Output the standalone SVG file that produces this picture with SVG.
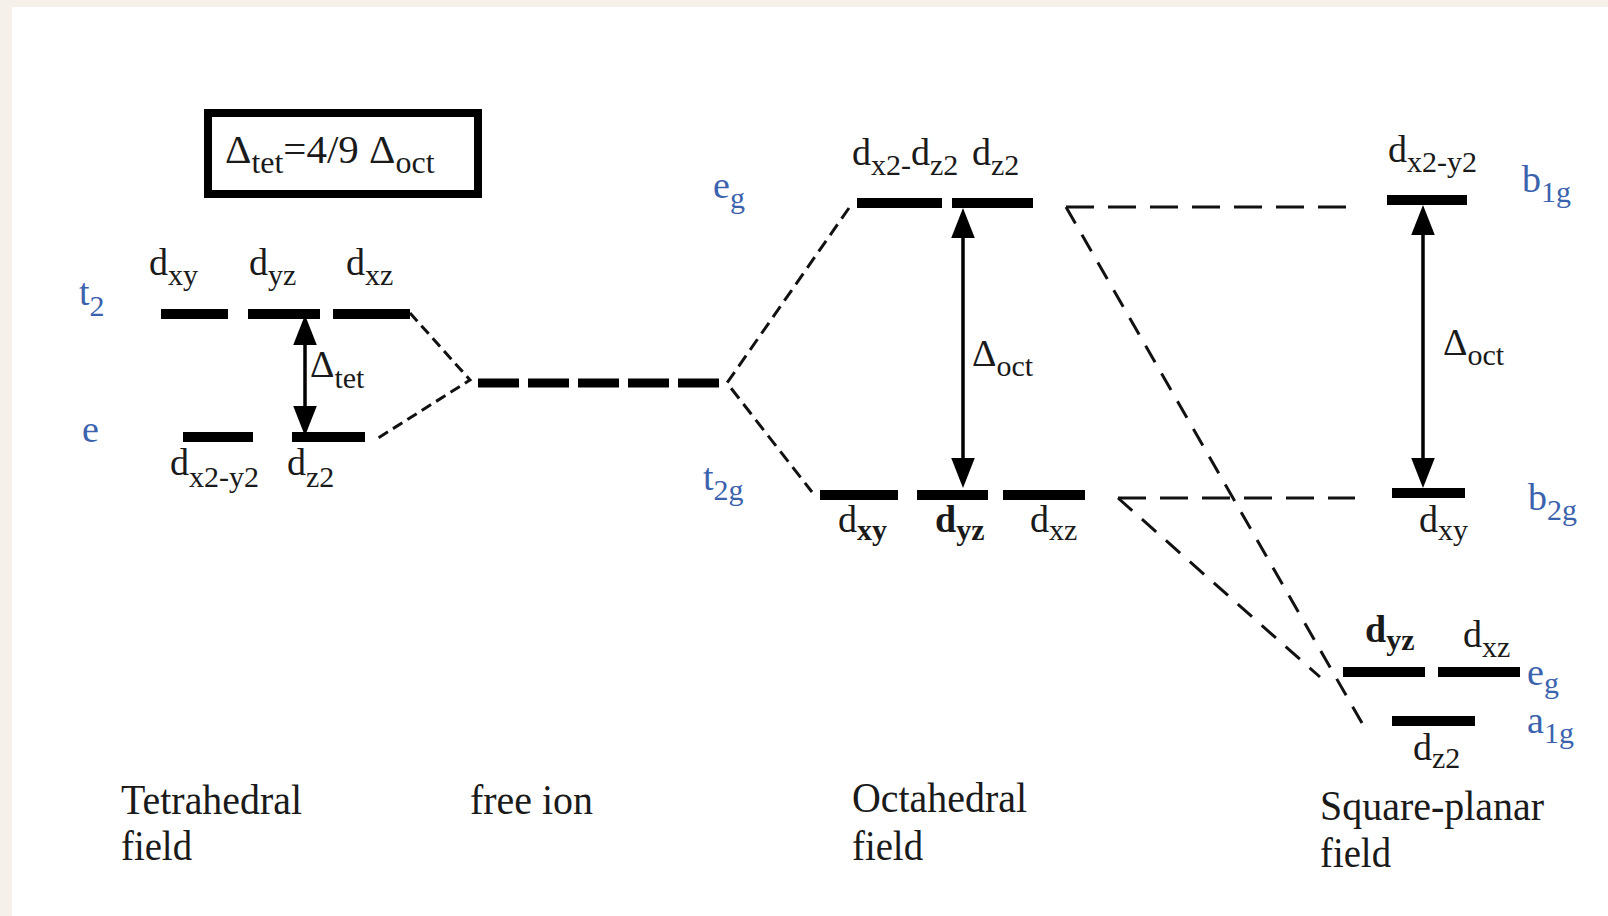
<svg xmlns="http://www.w3.org/2000/svg" width="1608" height="916" viewBox="0 0 1608 916">
<style>
.t{font-family:"Liberation Serif","Times New Roman",serif;font-size:38px;fill:#1a1a1a}
.s{font-size:30px}
.b{font-weight:bold}
.blue{fill:#3b63ad}
.big{font-family:"Liberation Serif","Times New Roman",serif;font-size:42px;fill:#1a1a1a}
.lvl{stroke:#000;stroke-width:10;fill:none}
.dash{stroke:#111;stroke-width:3;stroke-dasharray:11 6;fill:none}
.dasho{stroke:#111;stroke-width:3;stroke-dasharray:13 7;fill:none}
.dashl{stroke:#111;stroke-width:3;stroke-dasharray:28 14;fill:none}
.dashm{stroke:#111;stroke-width:3;stroke-dasharray:19 13;fill:none}
.arr{stroke:#000;stroke-width:3.5;fill:none;marker-start:url(#ah);marker-end:url(#ah)}
</style>
<defs>
<marker id="ah" markerUnits="userSpaceOnUse" markerWidth="30" markerHeight="24" refX="0" refY="11" orient="auto-start-reverse" viewBox="0 0 28 22">
<path d="M0,0 L28,11 L0,22 z" fill="#000"/>
</marker>
</defs>
<rect x="0" y="0" width="1608" height="916" fill="#f5f1ea"/>
<rect x="12" y="7" width="1596" height="909" fill="#ffffff"/>

<g id="formula-box">
<rect x="208" y="113" width="270" height="81" fill="none" stroke="#000" stroke-width="8"/>
<text class="t" x="225" y="163" style="font-size:41px">Δ<tspan y="173" style="font-size:32px">tet</tspan><tspan y="163">=4/9 Δ</tspan><tspan y="173" style="font-size:32px">oct</tspan></text>
</g>

<g id="tetrahedral">
<g id="tet-t2">
<line class="lvl" x1="161" y1="314" x2="228" y2="314"/>
<line class="lvl" x1="248" y1="314" x2="320" y2="314"/>
<line class="lvl" x1="333" y1="314" x2="410" y2="314"/>
<text class="t" x="149" y="275">d<tspan class="s" y="285">xy</tspan></text>
<text class="t" x="249" y="275">d<tspan class="s" y="285">yz</tspan></text>
<text class="t" x="346" y="275">d<tspan class="s" y="285">xz</tspan></text>
<text class="t blue" x="79" y="305">t<tspan class="s" y="316">2</tspan></text>
</g>
<g id="tet-e">
<line class="lvl" x1="183" y1="437" x2="253" y2="437"/>
<line class="lvl" x1="292" y1="437" x2="365" y2="437"/>
<text class="t" x="170" y="475">d<tspan class="s" y="487">x2-y2</tspan></text>
<text class="t" x="287" y="475">d<tspan class="s" y="487">z2</tspan></text>
<text class="t blue" x="82" y="442">e</text>
</g>
<g id="tet-delta">
<line class="arr" x1="305" y1="345" x2="305" y2="406"/>
<text class="t" x="310" y="377">Δ<tspan class="s" y="388">tet</tspan></text>
</g>
<text class="big" x="121" y="814" textLength="181" lengthAdjust="spacingAndGlyphs">Tetrahedral</text>
<text class="big" x="121" y="860" textLength="71" lengthAdjust="spacingAndGlyphs">field</text>
</g>

<g id="free-ion">
<line x1="478" y1="383" x2="719" y2="383" stroke="#000" stroke-width="9" stroke-dasharray="41 9"/>
<text class="big" x="470" y="814" textLength="123" lengthAdjust="spacingAndGlyphs">free ion</text>
</g>

<g id="octahedral">
<g id="oct-eg">
<line class="lvl" x1="857" y1="203" x2="942" y2="203"/>
<line class="lvl" x1="952" y1="203" x2="1033" y2="203"/>
<text class="t" x="852" y="165">d<tspan class="s" y="175">x2-</tspan><tspan y="165">d</tspan><tspan class="s" y="175">z2</tspan></text>
<text class="t" x="972" y="165">d<tspan class="s" y="175">z2</tspan></text>
<text class="t blue" x="713" y="198">e<tspan class="s" y="208">g</tspan></text>
</g>
<g id="oct-t2g">
<line class="lvl" x1="820" y1="495" x2="898" y2="495"/>
<line class="lvl" x1="917" y1="495" x2="988" y2="495"/>
<line class="lvl" x1="1003" y1="495" x2="1085" y2="495"/>
<text class="t" x="838" y="532">d<tspan class="s b" y="540">xy</tspan></text>
<text class="t" x="935" y="532"><tspan class="b">d</tspan><tspan class="s b" y="540">yz</tspan></text>
<text class="t" x="1030" y="532">d<tspan class="s" y="540">xz</tspan></text>
<text class="t blue" x="703" y="490">t<tspan class="s" y="500">2g</tspan></text>
</g>
<g id="oct-delta">
<line class="arr" x1="963" y1="238" x2="963" y2="458"/>
<text class="t" x="972" y="366">Δ<tspan class="s" y="376">oct</tspan></text>
</g>
<text class="big" x="852" y="812" textLength="175" lengthAdjust="spacingAndGlyphs">Octahedral</text>
<text class="big" x="852" y="860" textLength="71" lengthAdjust="spacingAndGlyphs">field</text>
</g>

<g id="square-planar">
<g id="sp-b1g">
<line class="lvl" x1="1387" y1="200" x2="1467" y2="200"/>
<text class="t" x="1388" y="162">d<tspan class="s" y="172">x2-y2</tspan></text>
<text class="t blue" x="1522" y="192">b<tspan class="s" y="202">1g</tspan></text>
</g>
<g id="sp-b2g">
<line class="lvl" x1="1392" y1="493" x2="1465" y2="493"/>
<text class="t" x="1419" y="532">d<tspan class="s" y="540">xy</tspan></text>
<text class="t blue" x="1528" y="510">b<tspan class="s" y="520">2g</tspan></text>
</g>
<g id="sp-delta">
<line class="arr" x1="1423" y1="235" x2="1423" y2="458"/>
<text class="t" x="1443" y="355">Δ<tspan class="s" y="365">oct</tspan></text>
</g>
<g id="sp-eg">
<line class="lvl" x1="1343" y1="672" x2="1425" y2="672"/>
<line class="lvl" x1="1438" y1="672" x2="1520" y2="672"/>
<text class="t" x="1365" y="642"><tspan class="b">d</tspan><tspan class="s b" y="650">yz</tspan></text>
<text class="t" x="1463" y="647">d<tspan class="s" y="657">xz</tspan></text>
<text class="t blue" x="1527" y="685">e<tspan class="s" y="693">g</tspan></text>
</g>
<g id="sp-a1g">
<line class="lvl" x1="1392" y1="721" x2="1475" y2="721"/>
<text class="t" x="1413" y="760">d<tspan class="s" y="768">z2</tspan></text>
<text class="t blue" x="1527" y="733">a<tspan class="s" y="743">1g</tspan></text>
</g>
<text class="big" x="1320" y="820" textLength="224" lengthAdjust="spacingAndGlyphs">Square-planar</text>
<text class="big" x="1320" y="867" textLength="71" lengthAdjust="spacingAndGlyphs">field</text>
</g>

<g id="connectors">
<path class="dash" d="M410,313 L470,380 L375,440"/>
<path class="dasho" d="M849,208 L727,383 L812,492"/>
<path class="dashl" d="M1066,207 L1352,207"/>
<path class="dashm" d="M1066,207 L1362,723"/>
<path class="dashl" d="M1118,498 L1355,498"/>
<path class="dashm" d="M1118,498 L1320,677"/>
</g>
</svg>
